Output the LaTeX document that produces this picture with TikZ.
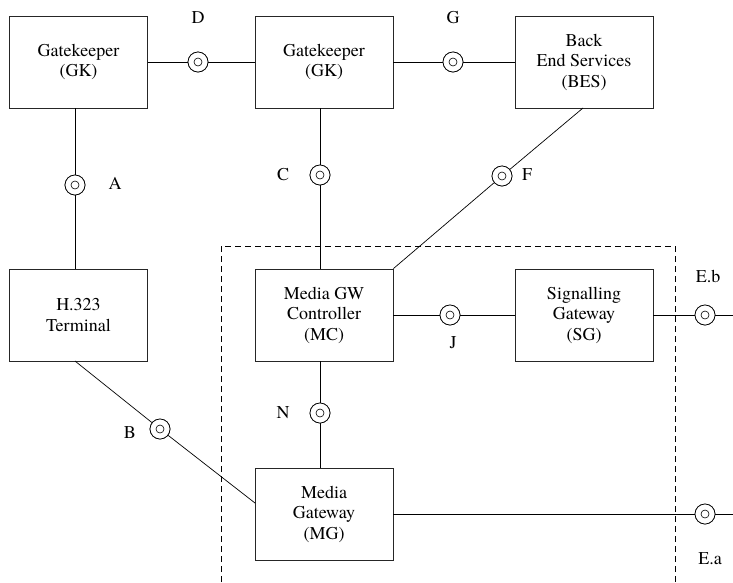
\documentclass[tikz,border=0pt]{standalone}
\usepackage{fontspec}
\setmainfont{TeX Gyre Termes}
\begin{document}
\begin{tikzpicture}[x=1pt,y=-1pt,
  box/.style={draw=black!85, line width=0.8pt, minimum width=138pt, minimum height=92pt, inner sep=0pt, align=center, font=\fontsize{18}{20.5}\selectfont},
  iface/.style={circle, draw, fill=white, line width=0.7pt, minimum size=20pt, inner sep=0pt},
  lbl/.style={font=\fontsize{18}{20}\selectfont, inner sep=0pt},
  conn/.style={line width=0.7pt}]
\useasboundingbox (0,0) rectangle (733,582);
% dashed domain
\coordinate (dl) at (221,582);
\coordinate (dtl) at (221,246);
\coordinate (dtr) at (675,246);
\coordinate (dr) at (675,582);
\draw[line width=0.7pt, dash pattern=on 6pt off 4pt] (dl) -- (dtl) -- (dtr) -- (dr);
% boxes
\node[box] (gk1) at (78.5,62) {Gatekeeper\\(GK)};
\node[box] (gk2) at (324,62) {Gatekeeper\\(GK)};
\node[box] (bes) at (584,62) {Back\\End Services\\(BES)};
\node[box] (h323) at (78.5,315) {H.323\\Terminal};
\node[box] (mc) at (324,315) {Media GW\\Controller\\(MC)};
\node[box] (sg) at (584,315) {Signalling\\Gateway\\(SG)};
\node[box] (mg) at (324,514) {Media\\Gateway\\(MG)};
% interface points
\node[iface] (D) at (198,62) {};
\node[iface] (G) at (453,62) {};
\node[iface] (A) at (75,185) {};
\node[iface] (C) at (320,175) {};
\node[iface] (F) at (502,176) {};
\node[iface] (J) at (450,315) {};
\node[iface] (Eb) at (705,315) {};
\node[iface] (N) at (320,413) {};
\node[iface] (B) at (160,429) {};
\node[iface] (Ea) at (705,514) {};
\coordinate (ebend) at (733,315);
\coordinate (eaend) at (733,514);
\coordinate (h323b) at (75,361);
\coordinate (mgl) at (255,503);
\coordinate (besb) at (583,108);
% connectors
\draw[conn] (gk1.east) -- (D) -- (gk2.west);
\draw[conn] (gk2.east) -- (G) -- (bes.west);
\draw[conn] (A |- gk1.south) -- (A) -- (A |- h323.north);
\draw[conn] (C |- gk2.south) -- (C) -- (C |- mc.north);
\draw[conn] (besb) -- (F) -- (mc.north east);
\draw[conn] (mc.east) -- (J) -- (sg.west);
\draw[conn] (sg.east) -- (Eb) -- (ebend);
\draw[conn] (N |- mc.south) -- (N) -- (N |- mg.north);
\draw[conn] (h323b) -- (B) -- (mgl);
\draw[conn] (mg.east) -- (Ea) -- (eaend);
% redraw interface circles on top
\foreach \p in {D,G,A,C,F,J,Eb,N,B,Ea}{
  \node[iface] at (\p) {};
  \draw[line width=0.6pt] (\p) circle (4pt);
}
% labels
\node[lbl] (lD) at (198,18) {D};
\node[lbl] (lG) at (453,18) {G};
\node[lbl] (lA) at (115,183) {A};
\node[lbl] (lC) at (283,175) {C};
\node[lbl] (lF) at (527,175) {F};
\node[lbl] (lJ) at (453,343) {J};
\node[lbl] (lEb) at (708,276) {E.b};
\node[lbl] (lN) at (283,413) {N};
\node[lbl] (lB) at (130,433) {B};
\node[lbl] (lEa) at (710,559) {E.a};
\end{tikzpicture}
\end{document}
